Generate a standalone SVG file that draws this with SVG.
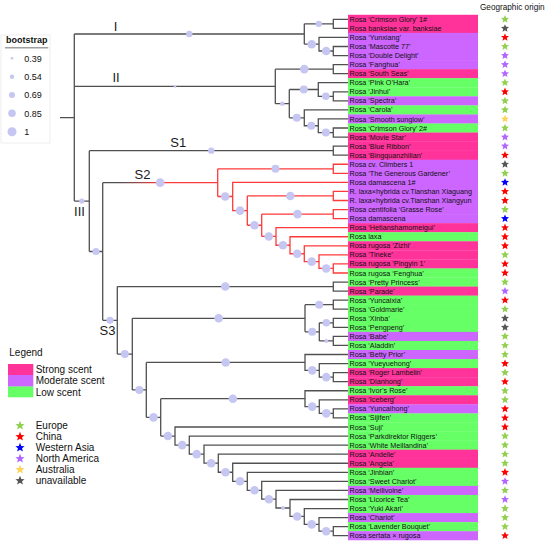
<svg xmlns="http://www.w3.org/2000/svg" xmlns:xlink="http://www.w3.org/1999/xlink" width="550" height="545" viewBox="0 0 550 545">
<style>
text{font-family:"Liberation Sans",Arial,sans-serif;fill:#111}
.lf text{font-size:7.2px}
.st{fill:#ff3399}.md{fill:#cc66ff}.lo{fill:#66ff66}
.eu{fill:#92d050}.cn{fill:#ff0000}.wa{fill:#0000ff}.na{fill:#b266ff}.au{fill:#ffd35c}.un{fill:#555555}
.br{fill:none;stroke:#505050;stroke-width:1.3}
.rd{fill:none;stroke:#ff3a3a;stroke-width:1.3}
.bs{fill:#c6c6f2}
.lab{font-size:13px;fill:#1a1a1a}
.lg{font-size:10px}
.bt{font-size:9px}
</style>
<defs>
<path id="star" d="M0,-4.2 L1.11,-1.53 L4,-1.3 L1.8,0.58 L2.47,3.4 L0,1.89 L-2.47,3.4 L-1.8,0.58 L-4,-1.3 L-1.11,-1.53Z"/>
<linearGradient id="s2g" gradientUnits="userSpaceOnUse" x1="102.7" y1="0" x2="217.7" y2="0">
<stop offset="0.15" stop-color="#505050"/><stop offset="0.5" stop-color="#ff3a3a"/>
</linearGradient>
</defs>
<rect width="550" height="545" fill="#ffffff"/>

<!-- bootstrap legend -->
<g id="bootstrap-legend">
<rect x="1" y="35" width="49" height="108" fill="none" stroke="#eeeeee"/>
<text x="6" y="42.8" font-weight="bold" font-size="9">bootstrap</text>
<line x1="5" y1="47.7" x2="48.3" y2="47.7" stroke="#a0a0a0" stroke-width="1.5"/>
<circle class="bs" cx="12" cy="58.3" r="1.3"/><text class="bt" x="24.3" y="61.5">0.39</text>
<circle class="bs" cx="12" cy="76.7" r="2.2"/><text class="bt" x="24.3" y="79.9">0.54</text>
<circle class="bs" cx="12" cy="95" r="3"/><text class="bt" x="24.3" y="98.2">0.69</text>
<circle class="bs" cx="12" cy="113.3" r="3.8"/><text class="bt" x="24.3" y="116.5">0.85</text>
<circle class="bs" cx="12" cy="131.7" r="4.5"/><text class="bt" x="24.3" y="134.9">1</text>
</g>

<!-- scent / origin legend -->
<g id="legend">
<text class="lg" x="9.3" y="355.5">Legend</text>
<rect class="st" x="8" y="364" width="25.3" height="11.2"/>
<rect class="md" x="8" y="375" width="25.3" height="11.7"/>
<rect class="lo" x="8" y="386.5" width="25.3" height="10.8"/>
<text class="lg" x="35.7" y="373">Strong scent</text>
<text class="lg" x="35.7" y="384.4">Moderate scent</text>
<text class="lg" x="35.7" y="395.6">Low scent</text>
<use href="#star" class="eu" transform="translate(20,425.7) scale(1.15)"/>
<use href="#star" class="cn" transform="translate(20,436.7) scale(1.15)"/>
<use href="#star" class="wa" transform="translate(20,447.7) scale(1.15)"/>
<use href="#star" class="na" transform="translate(20,458.7) scale(1.15)"/>
<use href="#star" class="au" transform="translate(20,469.7) scale(1.15)"/>
<use href="#star" class="un" transform="translate(20,480.7) scale(1.15)"/>
<text class="lg" x="35.7" y="429.3">Europe</text>
<text class="lg" x="35.7" y="440.3">China</text>
<text class="lg" x="35.7" y="451.3">Western Asia</text>
<text class="lg" x="35.7" y="462.3">North America</text>
<text class="lg" x="35.7" y="473.3">Australia</text>
<text class="lg" x="35.7" y="484.3">unavailable</text>
</g>

<text x="512.3" y="10.3" font-size="8.2" text-anchor="middle">Geographic origin</text>

<!-- connectors -->
<g id="connectors">
<path class="br" d="M60 117.55H74.3 M74.3 34.02V201.08 M74.3 34.02H304.3 M74.3 86.4H275.3 M74.3 201.08H89.3
M304.3 23.83V44.22 M304.3 23.83H333.3 M304.3 44.22H319
M348 19.3H333.3V28.36H348 M348 37.42H319V51.01H333.3 M348 46.48H333.3V55.54H348
M275.3 69.13V103.67 M275.3 69.13H333.3 M275.3 103.67H289.3 M348 64.6H333.3V73.66H348
M289.3 89.52V117.83 M289.3 89.52H318.3 M289.3 117.83H304.3
M348 82.72H318.3V96.31H333.3 M348 91.78H333.3V100.84H348
M348 109.9H304.3V125.76H318.3 M348 118.96H318.3V132.55H333.3 M348 128.02H333.3V137.08H348
M89.3 150.67V251.5 M89.3 150.67H333.3 M348 146.14H333.3V155.2H348 M89.3 251.5H102.7
M102.7 182.65V320.34 M102.7 320.34H117.3
M117.3 286.57V354.1 M117.3 286.57H333.3 M348 282.04H333.3V291.1H348 M117.3 354.1H132.3
M132.3 318.28V389.92 M132.3 318.28H305 M132.3 389.92H146.3
M305 304.69V331.87 M305 304.69H333.3 M348 300.16H333.3V309.22H348 M305 331.87H319.3
M319.3 322.81V340.93 M319.3 322.81H333.3 M319.3 340.93H333.3 M348 318.28H333.3V327.34H348 M348 336.4H333.3V345.46H348
M146.3 362.45V417.38 M146.3 362.45H305 M146.3 417.38H160.7
M348 354.52H305V370.37H319.3 M348 363.58H319.3V377.17H333.3 M348 372.64H333.3V381.7H348
M160.7 398.69V436.06 M160.7 398.69H305 M160.7 436.06H175
M348 390.76H305V406.62H319.3 M348 399.82H319.3V413.41H333.3 M348 408.88H333.3V417.94H348
M348 427H175V445.12H189.3 M348 436.06H189.3V454.17H204 M348 445.12H204V463.22H218.3
M348 454.18H218.3V472.27H232.7 M348 463.24H232.7V481.29H247.3 M348 472.3H247.3V490.28H261.7
M348 481.36H261.7V499.2H276 M348 490.42H276V507.98H290 M348 499.48H290V516.47H304.3
M348 508.54H304.3V524.4H319 M348 517.6H319V531.19H333.3 M348 526.66H333.3V535.72H348"/>
<path d="M102.7 182.65H217.7" fill="none" stroke="url(#s2g)" stroke-width="1.3"/>
<path class="rd" d="M217.7 168.79V196.5 M217.7 168.79H333.3 M348 164.26H333.3V173.32H348 M217.7 196.5H232.7
M348 182.38H232.7V210.62H247.3
M247.3 195.97V225.27 M247.3 195.97H333.3 M348 191.44H333.3V200.5H348 M247.3 225.27H261.7
M261.7 214.09V236.46 M261.7 214.09H333.3 M348 209.56H333.3V218.62H348 M261.7 236.46H276
M348 227.68H276V245.24H290 M348 236.74H290V253.73H304.3 M348 245.8H304.3V261.66H319
M348 254.86H319V268.45H333.3 M348 263.92H333.3V272.98H348"/>
</g>

<!-- bootstrap circles -->
<g id="support">
<circle class="bs" cx="189.3" cy="34.02" r="3.2"/>
<circle class="bs" cx="318.8" cy="23.83" r="3.2"/>
<circle class="bs" cx="311.7" cy="44.22" r="4.3"/>
<circle class="bs" cx="326.2" cy="51.01" r="4.3"/>
<circle class="bs" cx="175" cy="86.4" r="1.3"/>
<circle class="bs" cx="304.3" cy="69.13" r="4.3"/>
<circle class="bs" cx="282.3" cy="103.67" r="2.2"/>
<circle class="bs" cx="303.8" cy="89.52" r="4"/>
<circle class="bs" cx="325.8" cy="96.31" r="3.8"/>
<circle class="bs" cx="296.8" cy="117.83" r="4"/>
<circle class="bs" cx="311.3" cy="125.76" r="4"/>
<circle class="bs" cx="325.8" cy="132.55" r="4"/>
<circle class="bs" cx="211.3" cy="150.67" r="3.2"/>
<circle class="bs" cx="81.8" cy="201.08" r="2.7"/>
<circle class="bs" cx="96" cy="251.5" r="3.6"/>
<circle class="bs" cx="160.2" cy="182.65" r="4.3"/>
<circle class="bs" cx="275.5" cy="168.79" r="4"/>
<circle class="bs" cx="225.2" cy="196.5" r="4.3"/>
<circle class="bs" cx="240" cy="210.62" r="4.3"/>
<circle class="bs" cx="290.3" cy="195.97" r="4.3"/>
<circle class="bs" cx="254.5" cy="225.27" r="4.3"/>
<circle class="bs" cx="297.5" cy="214.09" r="4.3"/>
<circle class="bs" cx="268.8" cy="236.46" r="4.3"/>
<circle class="bs" cx="283" cy="245.24" r="4.3"/>
<circle class="bs" cx="297.2" cy="253.73" r="4.3"/>
<circle class="bs" cx="311.7" cy="261.66" r="4.3"/>
<circle class="bs" cx="326.2" cy="268.45" r="4.3"/>
<circle class="bs" cx="110" cy="320.34" r="3.6"/>
<circle class="bs" cx="225.3" cy="286.57" r="4.3"/>
<circle class="bs" cx="124.8" cy="354.1" r="4"/>
<circle class="bs" cx="218.7" cy="318.28" r="4.3"/>
<circle class="bs" cx="319.2" cy="304.69" r="4"/>
<circle class="bs" cx="312.2" cy="331.87" r="4"/>
<circle class="bs" cx="326.3" cy="322.81" r="3.8"/>
<circle class="bs" cx="326.3" cy="340.93" r="2"/>
<circle class="bs" cx="139.3" cy="389.92" r="4"/>
<circle class="bs" cx="225.7" cy="362.45" r="4.3"/>
<circle class="bs" cx="312.2" cy="370.37" r="4.3"/>
<circle class="bs" cx="326.3" cy="377.17" r="4.3"/>
<circle class="bs" cx="153.5" cy="417.38" r="4.3"/>
<circle class="bs" cx="232.9" cy="398.69" r="4.3"/>
<circle class="bs" cx="312.2" cy="406.62" r="4.3"/>
<circle class="bs" cx="326.3" cy="413.41" r="4.3"/>
<circle class="bs" cx="167.9" cy="436.06" r="4.3"/>
<circle class="bs" cx="182.2" cy="445.12" r="4.3"/>
<circle class="bs" cx="196.7" cy="454.17" r="4.3"/>
<circle class="bs" cx="211.2" cy="463.22" r="4.3"/>
<circle class="bs" cx="225.5" cy="472.27" r="4.3"/>
<circle class="bs" cx="240" cy="481.29" r="4.3"/>
<circle class="bs" cx="254.5" cy="490.28" r="4.3"/>
<circle class="bs" cx="268.9" cy="499.2" r="4.3"/>
<circle class="bs" cx="283" cy="507.98" r="2"/>
<circle class="bs" cx="297.2" cy="516.47" r="4.3"/>
<circle class="bs" cx="311.7" cy="524.4" r="4.3"/>
<circle class="bs" cx="326.2" cy="531.19" r="4.3"/>
</g>

<!-- clade labels -->
<g id="clade-labels">
<text class="lab" x="115.5" y="30.7" text-anchor="middle">I</text>
<text class="lab" x="116" y="82.3" text-anchor="middle">II</text>
<text class="lab" x="79.5" y="216" text-anchor="middle">III</text>
<text class="lab" x="178.3" y="147.3" text-anchor="middle">S1</text>
<text class="lab" x="142.5" y="179.3" text-anchor="middle">S2</text>
<text class="lab" x="107.5" y="335" text-anchor="middle">S3</text>
</g>

<!-- leaves -->
<g class="lf">
<g id="leaf1"><rect class="st" x="348" y="14.77" width="130" height="9.3"/><text x="349.5" y="21.85">Rosa ‘Crimson Glory’ 1#</text><use href="#star" class="eu" x="505" y="19.3"/></g>
<g id="leaf2"><rect class="st" x="348" y="23.83" width="130" height="9.3"/><text x="349.5" y="30.91">Rosa banksiae var. banksiae</text><use href="#star" class="un" x="505" y="28.36"/></g>
<g id="leaf3"><rect class="md" x="348" y="32.89" width="130" height="9.3"/><text x="349.5" y="39.97">Rosa ‘Yunxiang’</text><use href="#star" class="cn" x="505" y="37.42"/></g>
<g id="leaf4"><rect class="md" x="348" y="41.95" width="130" height="9.3"/><text x="349.5" y="49.03">Rosa ‘Mascotte 77’</text><use href="#star" class="eu" x="505" y="46.48"/></g>
<g id="leaf5"><rect class="md" x="348" y="51.01" width="130" height="9.3"/><text x="349.5" y="58.09">Rosa ‘Double Delight’</text><use href="#star" class="na" x="505" y="55.54"/></g>
<g id="leaf6"><rect class="md" x="348" y="60.07" width="130" height="9.3"/><text x="349.5" y="67.15">Rosa ‘Fanghua’</text><use href="#star" class="na" x="505" y="64.6"/></g>
<g id="leaf7"><rect class="st" x="348" y="69.13" width="130" height="9.3"/><text x="349.5" y="76.21">Rosa ‘South Seas’</text><use href="#star" class="na" x="505" y="73.66"/></g>
<g id="leaf8"><rect class="lo" x="348" y="78.19" width="130" height="9.3"/><text x="349.5" y="85.27">Rosa ‘Pink O’Hara’</text><use href="#star" class="eu" x="505" y="82.72"/></g>
<g id="leaf9"><rect class="lo" x="348" y="87.25" width="130" height="9.3"/><text x="349.5" y="94.33">Rosa ‘Jinhui’</text><use href="#star" class="cn" x="505" y="91.78"/></g>
<g id="leaf10"><rect class="md" x="348" y="96.31" width="130" height="9.3"/><text x="349.5" y="103.39">Rosa ‘Spectra’</text><use href="#star" class="eu" x="505" y="100.84"/></g>
<g id="leaf11"><rect class="lo" x="348" y="105.37" width="130" height="9.3"/><text x="349.5" y="112.45">Rosa ‘Carola’</text><use href="#star" class="eu" x="505" y="109.9"/></g>
<g id="leaf12"><rect class="md" x="348" y="114.43" width="130" height="9.3"/><text x="349.5" y="121.51">Rosa ‘Smooth sunglow’</text><use href="#star" class="au" x="505" y="118.96"/></g>
<g id="leaf13"><rect class="lo" x="348" y="123.49" width="130" height="9.3"/><text x="349.5" y="130.57">Rosa ‘Crimson Glory’ 2#</text><use href="#star" class="eu" x="505" y="128.02"/></g>
<g id="leaf14"><rect class="st" x="348" y="132.55" width="130" height="9.3"/><text x="349.5" y="139.63">Rosa ‘Movie Star’</text><use href="#star" class="na" x="505" y="137.08"/></g>
<g id="leaf15"><rect class="st" x="348" y="141.61" width="130" height="9.3"/><text x="349.5" y="148.69">Rosa ‘Blue Ribbon’</text><use href="#star" class="na" x="505" y="146.14"/></g>
<g id="leaf16"><rect class="st" x="348" y="150.67" width="130" height="9.3"/><text x="349.5" y="157.75">Rosa ‘Bingquanzhilian’</text><use href="#star" class="cn" x="505" y="155.2"/></g>
<g id="leaf17"><rect class="md" x="348" y="159.73" width="130" height="9.3"/><text x="349.5" y="166.81">Rosa cv. Climbers 1</text><use href="#star" class="un" x="505" y="164.26"/></g>
<g id="leaf18"><rect class="md" x="348" y="168.79" width="130" height="9.3"/><text x="349.5" y="175.87">Rosa ‘The Generous Gardener’</text><use href="#star" class="eu" x="505" y="173.32"/></g>
<g id="leaf19"><rect class="md" x="348" y="177.85" width="130" height="9.3"/><text x="349.5" y="184.93">Rosa damascena 1#</text><use href="#star" class="wa" x="505" y="182.38"/></g>
<g id="leaf20"><rect class="md" x="348" y="186.91" width="130" height="9.3"/><text x="349.5" y="193.99">R. laxa×hybrida cv.Tianshan Xiaguang</text><use href="#star" class="cn" x="505" y="191.44"/></g>
<g id="leaf21"><rect class="md" x="348" y="195.97" width="130" height="9.3"/><text x="349.5" y="203.05">R. laxa×hybrida cv.Tianshan Xiangyun</text><use href="#star" class="cn" x="505" y="200.5"/></g>
<g id="leaf22"><rect class="md" x="348" y="205.03" width="130" height="9.3"/><text x="349.5" y="212.11">Rosa centifolia ‘Grasse Rose’</text><use href="#star" class="eu" x="505" y="209.56"/></g>
<g id="leaf23"><rect class="md" x="348" y="214.09" width="130" height="9.3"/><text x="349.5" y="221.17">Rosa damascena</text><use href="#star" class="wa" x="505" y="218.62"/></g>
<g id="leaf24"><rect class="st" x="348" y="223.15" width="130" height="9.3"/><text x="349.5" y="230.23">Rosa ‘Hetianshamomeigui’</text><use href="#star" class="cn" x="505" y="227.68"/></g>
<g id="leaf25"><rect class="lo" x="348" y="232.21" width="130" height="9.3"/><text x="349.5" y="239.29">Rosa laxa</text><use href="#star" class="cn" x="505" y="236.74"/></g>
<g id="leaf26"><rect class="st" x="348" y="241.27" width="130" height="9.3"/><text x="349.5" y="248.35">Rosa rugosa ‘Zizhi’</text><use href="#star" class="cn" x="505" y="245.8"/></g>
<g id="leaf27"><rect class="st" x="348" y="250.33" width="130" height="9.3"/><text x="349.5" y="257.41">Rosa ‘Tineke’</text><use href="#star" class="eu" x="505" y="254.86"/></g>
<g id="leaf28"><rect class="st" x="348" y="259.39" width="130" height="9.3"/><text x="349.5" y="266.47">Rosa rugosa ‘Pingyin 1’</text><use href="#star" class="cn" x="505" y="263.92"/></g>
<g id="leaf29"><rect class="lo" x="348" y="268.45" width="130" height="9.3"/><text x="349.5" y="275.53">Rosa rugosa ‘Fenghua’</text><use href="#star" class="cn" x="505" y="272.98"/></g>
<g id="leaf30"><rect class="lo" x="348" y="277.51" width="130" height="9.3"/><text x="349.5" y="284.59">Rosa ‘Pretty Princess’</text><use href="#star" class="eu" x="505" y="282.04"/></g>
<g id="leaf31"><rect class="st" x="348" y="286.57" width="130" height="9.3"/><text x="349.5" y="293.65">Rosa ‘Parade’</text><use href="#star" class="na" x="505" y="291.1"/></g>
<g id="leaf32"><rect class="lo" x="348" y="295.63" width="130" height="9.3"/><text x="349.5" y="302.71">Rosa ‘Yuncaixia’</text><use href="#star" class="cn" x="505" y="300.16"/></g>
<g id="leaf33"><rect class="lo" x="348" y="304.69" width="130" height="9.3"/><text x="349.5" y="311.77">Rosa ‘Goldmarie’</text><use href="#star" class="eu" x="505" y="309.22"/></g>
<g id="leaf34"><rect class="lo" x="348" y="313.75" width="130" height="9.3"/><text x="349.5" y="320.83">Rosa ‘Xinba’</text><use href="#star" class="un" x="505" y="318.28"/></g>
<g id="leaf35"><rect class="lo" x="348" y="322.81" width="130" height="9.3"/><text x="349.5" y="329.89">Rosa ‘Pengpeng’</text><use href="#star" class="un" x="505" y="327.34"/></g>
<g id="leaf36"><rect class="md" x="348" y="331.87" width="130" height="9.3"/><text x="349.5" y="338.95">Rosa ‘Babe’</text><use href="#star" class="eu" x="505" y="336.4"/></g>
<g id="leaf37"><rect class="lo" x="348" y="340.93" width="130" height="9.3"/><text x="349.5" y="348.01">Rosa ‘Aladdin’</text><use href="#star" class="eu" x="505" y="345.46"/></g>
<g id="leaf38"><rect class="md" x="348" y="349.99" width="130" height="9.3"/><text x="349.5" y="357.07">Rosa ‘Betty Prior’</text><use href="#star" class="eu" x="505" y="354.52"/></g>
<g id="leaf39"><rect class="lo" x="348" y="359.05" width="130" height="9.3"/><text x="349.5" y="366.13">Rosa ‘Yueyuehong’</text><use href="#star" class="cn" x="505" y="363.58"/></g>
<g id="leaf40"><rect class="st" x="348" y="368.11" width="130" height="9.3"/><text x="349.5" y="375.19">Rosa ‘Roger Lambelin’</text><use href="#star" class="eu" x="505" y="372.64"/></g>
<g id="leaf41"><rect class="st" x="348" y="377.17" width="130" height="9.3"/><text x="349.5" y="384.25">Rosa ‘Dianhong’</text><use href="#star" class="cn" x="505" y="381.7"/></g>
<g id="leaf42"><rect class="lo" x="348" y="386.23" width="130" height="9.3"/><text x="349.5" y="393.31">Rosa ‘Ivor’s Rose’</text><use href="#star" class="eu" x="505" y="390.76"/></g>
<g id="leaf43"><rect class="st" x="348" y="395.29" width="130" height="9.3"/><text x="349.5" y="402.37">Rosa ‘Iceberg’</text><use href="#star" class="eu" x="505" y="399.82"/></g>
<g id="leaf44"><rect class="md" x="348" y="404.35" width="130" height="9.3"/><text x="349.5" y="411.43">Rosa ‘Yuncaihong’</text><use href="#star" class="cn" x="505" y="408.88"/></g>
<g id="leaf45"><rect class="lo" x="348" y="413.41" width="130" height="9.3"/><text x="349.5" y="420.49">Rosa ‘Sijifen’</text><use href="#star" class="cn" x="505" y="417.94"/></g>
<g id="leaf46"><rect class="lo" x="348" y="422.47" width="130" height="9.3"/><text x="349.5" y="429.55">Rosa ‘Suji’</text><use href="#star" class="cn" x="505" y="427"/></g>
<g id="leaf47"><rect class="lo" x="348" y="431.53" width="130" height="9.3"/><text x="349.5" y="438.61">Rosa ‘Parkdirektor Riggers’</text><use href="#star" class="eu" x="505" y="436.06"/></g>
<g id="leaf48"><rect class="lo" x="348" y="440.59" width="130" height="9.3"/><text x="349.5" y="447.67">Rosa ‘White Meillandina’</text><use href="#star" class="eu" x="505" y="445.12"/></g>
<g id="leaf49"><rect class="st" x="348" y="449.65" width="130" height="9.3"/><text x="349.5" y="456.73">Rosa ‘Andelie’</text><use href="#star" class="eu" x="505" y="454.18"/></g>
<g id="leaf50"><rect class="st" x="348" y="458.71" width="130" height="9.3"/><text x="349.5" y="465.79">Rosa ‘Angela’</text><use href="#star" class="eu" x="505" y="463.24"/></g>
<g id="leaf51"><rect class="lo" x="348" y="467.77" width="130" height="9.3"/><text x="349.5" y="474.85">Rosa ‘Jinbian’</text><use href="#star" class="cn" x="505" y="472.3"/></g>
<g id="leaf52"><rect class="lo" x="348" y="476.83" width="130" height="9.3"/><text x="349.5" y="483.91">Rosa ‘Sweet Chariot’</text><use href="#star" class="na" x="505" y="481.36"/></g>
<g id="leaf53"><rect class="md" x="348" y="485.89" width="130" height="9.3"/><text x="349.5" y="492.97">Rosa ‘Meilivoine’</text><use href="#star" class="eu" x="505" y="490.42"/></g>
<g id="leaf54"><rect class="lo" x="348" y="494.95" width="130" height="9.3"/><text x="349.5" y="502.03">Rosa ‘Licorice Tea’</text><use href="#star" class="na" x="505" y="499.48"/></g>
<g id="leaf55"><rect class="lo" x="348" y="504.01" width="130" height="9.3"/><text x="349.5" y="511.09">Rosa ‘Yuki Akari’</text><use href="#star" class="eu" x="505" y="508.54"/></g>
<g id="leaf56"><rect class="md" x="348" y="513.07" width="130" height="9.3"/><text x="349.5" y="520.15">Rosa ‘Chariot’</text><use href="#star" class="eu" x="505" y="517.6"/></g>
<g id="leaf57"><rect class="lo" x="348" y="522.13" width="130" height="9.3"/><text x="349.5" y="529.21">Rosa ‘Lavender Bouquet’</text><use href="#star" class="eu" x="505" y="526.66"/></g>
<g id="leaf58"><rect class="md" x="348" y="531.19" width="130" height="9.06"/><text x="349.5" y="538.27">Rosa sertata × rugosa</text><use href="#star" class="cn" x="505" y="535.72"/></g>
</g>
</svg>
